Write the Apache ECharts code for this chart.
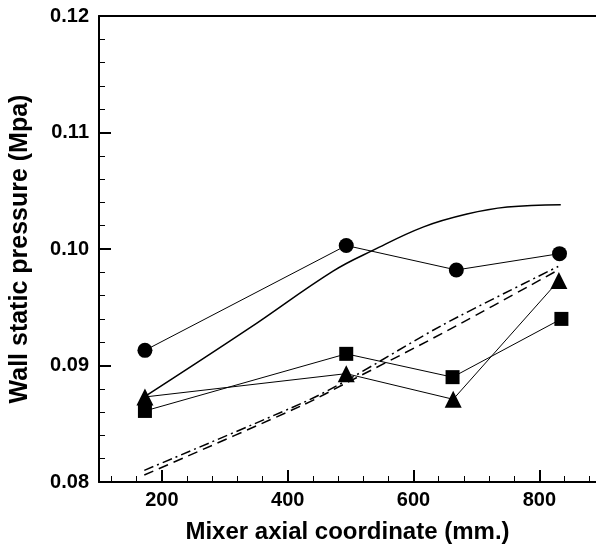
<!DOCTYPE html>
<html>
<head>
<meta charset="utf-8">
<script src="https://cdn.jsdelivr.net/npm/echarts@6/dist/echarts.min.js"></script>
<style>
html,body{margin:0;padding:0;background:#fff;}
#chart{width:596px;height:549px;}
</style>
</head>
<body>
<div id="chart"></div>
<script>
// Data
const circleX = [173, 493, 668, 832];
const circleY = [0.0913, 0.1003, 0.0982, 0.0996];
const squareX = [173, 493, 662, 835];
const squareY = [0.0861, 0.0910, 0.0890, 0.0940];
const triangleX = [173, 493, 663, 831];
const triangleY = [0.0873, 0.0893, 0.0871, 0.0973];
const solidX = [172, 339, 472, 536, 616, 685, 749, 834];
const solidY = [0.0873, 0.0932, 0.0981, 0.0999, 0.1019, 0.1030, 0.1036, 0.1038];
const dashDotX = [172, 424, 493, 647, 830];
const dashDotY = [0.0810, 0.0868, 0.0887, 0.0935, 0.0985];
const dashedX = [172, 424, 493, 647, 830];
const dashedY = [0.0806, 0.0866, 0.0885, 0.0928, 0.0982];
const xMajorTicks = [200, 400, 600, 800];
const xMinorTicks = [120, 160, 200, 240, 280, 320, 360, 400, 440, 480, 520, 560, 600, 640, 680, 720, 760, 800, 840, 880];
const xTitle = 'Mixer axial coordinate (mm.)';
const yTitle = 'Wall static pressure (Mpa)';

const zip = (xs, ys) => xs.map((x, i) => [x, ys[i]]);
const font = 'Liberation Sans, Arial, sans-serif';

const chart = echarts.init(document.getElementById('chart'));
chart.setOption({
  animation: false,
  backgroundColor: '#fff',
  grid: { left: 96, right: 0, top: 16, bottom: 64 },
  xAxis: [
    {
      type: 'value', min: 100, max: 890, position: 'bottom',
      name: xTitle, nameLocation: 'middle', nameGap: 38,
      nameTextStyle: { fontFamily: font, fontWeight: 'bold', fontSize: 24, color: '#000' },
      axisLine: { show: true, onZero: false, lineStyle: { color: '#000', width: 2 } },
      axisTick: { show: true, inside: true, length: 12, customValues: xMajorTicks, lineStyle: { color: '#000', width: 2 } },
      axisLabel: { customValues: xMajorTicks, fontFamily: font, fontWeight: 'bold', fontSize: 20, color: '#000', margin: 8 },
      splitLine: { show: false }
    },
    {
      type: 'value', min: 100, max: 890, position: 'bottom',
      axisLine: { show: false, onZero: false },
      axisTick: { show: true, inside: true, length: 6, customValues: xMinorTicks, lineStyle: { color: '#000', width: 1 } },
      axisLabel: { show: false },
      splitLine: { show: false }
    },
    {
      type: 'value', min: 100, max: 890, position: 'top',
      axisLine: { show: true, onZero: false, lineStyle: { color: '#000', width: 2 } },
      axisTick: { show: false }, axisLabel: { show: false }, splitLine: { show: false }
    }
  ],
  yAxis: {
    type: 'value', min: 0.08, max: 0.12, interval: 0.01,
    name: yTitle, nameLocation: 'middle', nameGap: 66,
    nameTextStyle: { fontFamily: font, fontWeight: 'bold', fontSize: 25, color: '#000' },
    axisLine: { show: true, onZero: false, lineStyle: { color: '#000', width: 2 } },
    axisTick: { show: true, inside: true, length: 12, lineStyle: { color: '#000', width: 2 } },
    minorTick: { show: true, splitNumber: 5, length: 6, lineStyle: { color: '#000', width: 1 } },
    axisLabel: { formatter: v => v.toFixed(2), fontFamily: font, fontWeight: 'bold', fontSize: 20, color: '#000', margin: 10 },
    splitLine: { show: false }
  },
  series: [
    { type: 'line', data: zip(solidX, solidY), smooth: 0.4, showSymbol: false, lineStyle: { color: '#000', width: 1.5 } },
    { type: 'line', data: zip(dashDotX, dashDotY), smooth: 0.3, showSymbol: false, lineStyle: { color: '#000', width: 1.5, type: [10, 4, 2, 4] } },
    { type: 'line', data: zip(dashedX, dashedY), smooth: 0.3, showSymbol: false, lineStyle: { color: '#000', width: 1.5, type: [10, 6] } },
    { type: 'line', data: zip(squareX, squareY), symbol: 'rect', symbolSize: 14, itemStyle: { color: '#000' }, lineStyle: { color: '#000', width: 1 } },
    { type: 'line', data: zip(triangleX, triangleY), symbol: 'triangle', symbolSize: 17, itemStyle: { color: '#000' }, lineStyle: { color: '#000', width: 1 } },
    { type: 'line', data: zip(circleX, circleY), symbol: 'circle', symbolSize: 15, itemStyle: { color: '#000' }, lineStyle: { color: '#000', width: 1 } }
  ]
});
</script>
</body>
</html>
